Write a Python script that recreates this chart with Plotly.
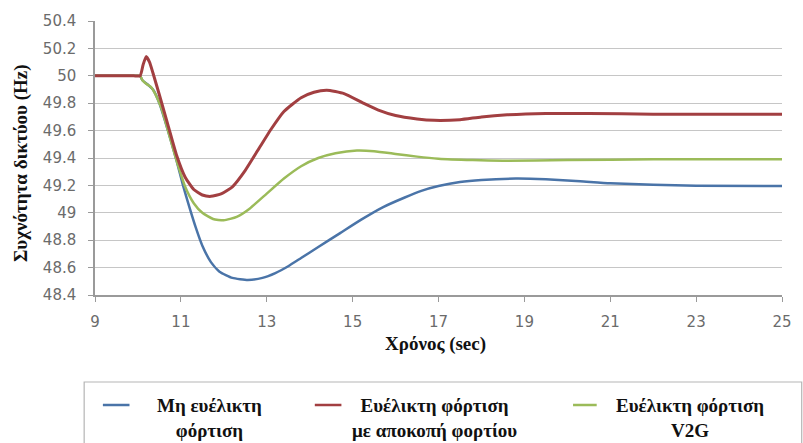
import plotly.graph_objects as go

# Time axis (s) and grid frequency (Hz) for the three charging scenarios
t_inflexible = [9.0, 9.5, 9.9, 10.05, 10.1, 10.25, 10.35, 10.5, 10.7, 10.9, 11.05, 11.2,
                11.35, 11.5, 11.7, 11.9, 12.2, 12.56, 12.9, 13.2, 13.5, 13.8, 14.2, 14.7,
                15.2, 15.7, 16.2, 16.6, 17.0, 17.5, 18.0, 18.8, 19.5, 20.3, 21.0, 22.0,
                23.0, 25.0]
f_inflexible = [50.0, 50.0, 50.0, 50.0, 49.97, 49.93, 49.90, 49.80, 49.60, 49.38, 49.20, 49.04,
                48.89, 48.76, 48.64, 48.57, 48.525, 48.51, 48.525, 48.56, 48.61, 48.67, 48.75, 48.85,
                48.95, 49.04, 49.11, 49.16, 49.195, 49.225, 49.24, 49.25, 49.245, 49.23, 49.215, 49.205,
                49.197, 49.195]

t_shedding = [9.0, 9.5, 9.9, 10.05, 10.12, 10.19, 10.27, 10.35, 10.5, 10.7, 10.9, 11.1,
              11.3, 11.5, 11.7, 11.95, 12.2, 12.5, 12.8, 13.1, 13.4, 13.8, 14.1, 14.4,
              14.8, 15.25, 15.6, 16.0, 16.5, 16.9, 17.5, 18.0, 18.6, 19.5, 20.5, 22.0,
              25.0]
f_shedding = [50.0, 50.0, 50.0, 50.0, 50.08, 50.14, 50.10, 50.02, 49.86, 49.64, 49.42, 49.26,
              49.17, 49.13, 49.12, 49.14, 49.19, 49.31, 49.46, 49.61, 49.74, 49.84, 49.88, 49.895,
              49.87, 49.80, 49.75, 49.71, 49.685, 49.675, 49.68, 49.70, 49.715, 49.725, 49.725, 49.72,
              49.72]

t_v2g = [9.0, 9.5, 9.9, 10.05, 10.1, 10.2, 10.3, 10.4, 10.55, 10.7, 10.9, 11.1,
         11.3, 11.5, 11.75, 12.0, 12.3, 12.6, 13.0, 13.4, 13.8, 14.2, 14.6, 15.1,
         15.5, 16.0, 16.5, 17.0, 17.8, 18.5, 20.0, 22.0, 25.0]
f_v2g = [50.0, 50.0, 50.0, 50.0, 49.97, 49.94, 49.92, 49.87, 49.76, 49.60, 49.38, 49.19,
         49.07, 49.00, 48.955, 48.945, 48.97, 49.03, 49.14, 49.25, 49.34, 49.40, 49.435, 49.455,
         49.45, 49.43, 49.41, 49.395, 49.385, 49.38, 49.385, 49.39, 49.39]

series_names = ["Μη ευέλικτη<br>φόρτιση",
                "Ευέλικτη φόρτιση<br>με αποκοπή φορτίου",
                "Ευέλικτη φόρτιση<br>V2G"]
series_colors = ["#4a74a8", "#a23f41", "#9bbb59"]
series_widths = [2.5, 3.0, 2.5]
series_t = [t_inflexible, t_shedding, t_v2g]
series_f = [f_inflexible, f_shedding, f_v2g]
draw_order = [0, 2, 1]  # load-shedding curve sits on top

x_ticks = [9, 11, 13, 15, 17, 19, 21, 23, 25]
y_ticks = [48.4, 48.6, 48.8, 49.0, 49.2, 49.4, 49.6, 49.8, 50.0, 50.2, 50.4]
y_tick_text = ["48.4", "48.6", "48.8", "49", "49.2", "49.4", "49.6", "49.8", "50", "50.2", "50.4"]

W, H = 803, 443
ML, MR, MT, MB = 95, 11, 21, 148
PW, PH = W - ML - MR, H - MT - MB


def px(xpix):
    return (xpix - ML) / PW


def py(ypix):
    return (H - MB - ypix) / PH


fig = go.Figure()
for i in draw_order:
    fig.add_trace(go.Scatter(x=series_t[i], y=series_f[i], mode="lines",
                             line=dict(color=series_colors[i], width=series_widths[i],
                                       shape="spline", smoothing=0.5),
                             showlegend=False, hoverinfo="skip"))

serif = "Liberation Serif"
tick_font = dict(family="DejaVu Sans", size=15, color="#6b6b6b")

fig.update_layout(
    width=W, height=H,
    margin=dict(l=ML, r=MR, t=MT, b=MB, pad=0),
    paper_bgcolor="white", plot_bgcolor="white",
    xaxis=dict(range=[9, 25], tickvals=x_ticks, ticks="outside", ticklen=5,
               tickcolor="#9a9a9a", showline=True, linecolor="#9a9a9a", linewidth=1.5,
               showgrid=False, zeroline=False, tickfont=tick_font, ticklabelstandoff=7),
    yaxis=dict(range=[48.4, 50.4], tickvals=y_ticks, ticktext=y_tick_text,
               ticks="outside", ticklen=5, tickcolor="#9a9a9a",
               showline=True, linecolor="#9a9a9a", linewidth=1.5,
               showgrid=True, gridcolor="#c6c6c6", gridwidth=1.4,
               zeroline=False, tickfont=tick_font, ticklabelstandoff=9),
)

annotations = [
    dict(text="<b>Συχνότητα δικτύου (Hz)</b>", x=px(20), y=py(163), textangle=-90,
         font=dict(family=serif, size=19, color="#111111")),
    dict(text="<b>Χρόνος (sec)</b>", x=px(440), y=py(344),
         font=dict(family=serif, size=19, color="#111111")),
]

# Legend frame and entries, laid out below the plot
shapes = [dict(type="rect", xref="paper", yref="paper",
               x0=px(84), x1=px(812), y0=py(382), y1=py(460),
               line=dict(color="#b5b5b5", width=1.2), fillcolor="rgba(0,0,0,0)")]
legend_dash = [(103, 130), (318, 345), (580, 604)]
legend_text_x = [211, 439, 699]
for (a, b), tx, name, c in zip(legend_dash, legend_text_x, series_names, series_colors):
    shapes.append(dict(type="line", xref="paper", yref="paper",
                       x0=px(a), x1=px(b), y0=py(405), y1=py(405),
                       line=dict(color=c, width=2.5)))
    annotations.append(dict(text="<b>" + name + "</b>", x=px(tx), y=py(418), align="center",
                            font=dict(family=serif, size=19, color="#111111")))

for a in annotations:
    a.update(xref="paper", yref="paper", showarrow=False, xanchor="center", yanchor="middle")

fig.update_layout(annotations=annotations, shapes=shapes)
fig.write_html("out.html")
